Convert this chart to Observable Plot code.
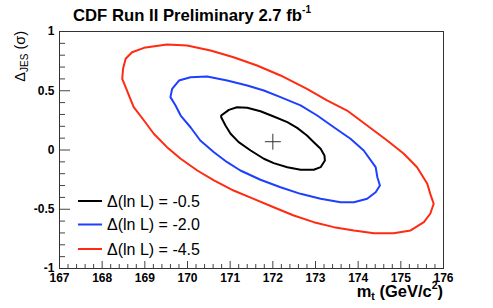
<!DOCTYPE html>
<html><head><meta charset="utf-8">
<script src="https://cdn.jsdelivr.net/npm/d3@7"></script>
<script src="https://cdn.jsdelivr.net/npm/@observablehq/plot@0.6"></script>
<style>body{margin:0;background:#fff}#chart{position:relative;width:493px;height:308px}</style>
</head><body><div id="chart"></div>
<script>
// ---- data (m_t in GeV/c^2, Delta_JES in sigma) ----
const contourHalf = [[170.79,0.291],[170.97,0.339],[171.16,0.361],[171.40,0.356],[171.71,0.327],[172.02,0.283],[172.34,0.235],[172.57,0.187],[172.80,0.122],[172.96,0.066],[173.12,0.010],[173.21,-0.046],[173.22,-0.089],[173.12,-0.145],[172.96,-0.167],[172.65,-0.167],[172.34,-0.145],[172.02,-0.111],[171.79,-0.074],[171.48,-0.004],[171.20,0.066],[171.01,0.137],[170.89,0.207],[170.79,0.277]];
const contourTwo = [[169.60,0.446],[169.64,0.516],[169.80,0.586],[170.07,0.614],[170.46,0.620],[170.93,0.586],[171.40,0.544],[171.79,0.502],[172.18,0.446],[172.65,0.376],[173.04,0.291],[173.43,0.192],[173.82,0.095],[174.13,-0.004],[174.41,-0.145],[174.45,-0.230],[174.51,-0.300],[174.41,-0.356],[174.21,-0.412],[173.90,-0.441],[173.59,-0.441],[173.12,-0.412],[172.65,-0.370],[172.18,-0.314],[171.71,-0.251],[171.24,-0.173],[170.93,-0.103],[170.62,-0.019],[170.30,0.080],[170.07,0.192],[169.84,0.291],[169.72,0.376]];
const contourFourHalf = [[168.47,0.601],[168.49,0.685],[168.55,0.770],[168.70,0.825],[168.98,0.862],[169.52,0.890],[169.99,0.882],[170.54,0.840],[171.08,0.783],[171.63,0.713],[172.18,0.629],[172.80,0.516],[173.27,0.418],[173.74,0.333],[174.21,0.207],[174.68,0.080],[175.07,-0.032],[175.38,-0.145],[175.62,-0.285],[175.69,-0.370],[175.77,-0.454],[175.69,-0.538],[175.54,-0.609],[175.23,-0.679],[174.83,-0.702],[174.37,-0.702],[173.90,-0.679],[173.43,-0.651],[172.96,-0.609],[172.49,-0.553],[172.02,-0.483],[171.55,-0.412],[171.08,-0.342],[170.62,-0.257],[170.23,-0.173],[169.84,-0.074],[169.52,0.024],[169.21,0.137],[168.98,0.249],[168.74,0.361],[168.66,0.432],[168.55,0.530]];
const bestFit = [[172.0, 0.07]];
const legendLabels = ["\u0394(ln L) = -0.5", "\u0394(ln L) = -2.0", "\u0394(ln L) = -4.5"];
const legendColors = ["#000000", "#1f3fff", "#ff2a12"];
const xMajor = [167,168,169,170,171,172,173,174,175,176];
const xMinor = [167.2,167.4,167.6,167.8,168.2,168.4,168.6,168.8,169.2,169.4,169.6,169.8,170.2,170.4,170.6,170.8,171.2,171.4,171.6,171.8,172.2,172.4,172.6,172.8,173.2,173.4,173.6,173.8,174.2,174.4,174.6,174.8,175.2,175.4,175.6,175.8];
const yMajor = [-1,-0.5,0,0.5,1];
const yMinor = [-0.9,-0.8,-0.7,-0.6,-0.4,-0.3,-0.2,-0.1,0.1,0.2,0.3,0.4,0.6,0.7,0.8,0.9];

const W = 493, H = 308, mL = 59, mR = 50, mT = 31, mB = 40;
const pw = W - mL - mR, ph = H - mT - mB;
const FONT = "Liberation Sans, Arial, Helvetica, sans-serif";
const contours = [contourHalf, contourTwo, contourFourHalf];

const chart = Plot.plot({
  width: W, height: H, marginLeft: mL, marginRight: mR, marginTop: mT, marginBottom: mB,
  style: {fontFamily: FONT, background: "#fff", color: "#000"},
  x: {domain: [167, 176]},
  y: {domain: [-1, 1]},
  marks: [
    Plot.tickX(xMajor, {x: d => d, stroke: "#444", insetTop: ph - 7}),
    Plot.tickX(xMinor, {x: d => d, stroke: "#444", insetTop: ph - 4}),
    Plot.tickY(yMajor, {y: d => d, stroke: "#444", insetRight: pw - 11}),
    Plot.tickY(yMinor, {y: d => d, stroke: "#444", insetRight: pw - 6}),
    Plot.axisX(xMajor, {tickSize: 0, tickPadding: 5, tickFormat: d => String(d), label: null, fontSize: 12, fontWeight: "bold"}),
    Plot.axisY(yMajor, {tickSize: 0, tickPadding: 5, tickFormat: d => String(d), label: null, fontSize: 12, fontWeight: "bold"}),
    ...contours.map((c, i) => Plot.line(c, {x: d => d[0], y: d => d[1], curve: "linear-closed", stroke: legendColors[i], strokeWidth: 2})),
    Plot.dot(bestFit, {x: d => d[0], y: d => d[1], symbol: "plus", r: 5.2, stroke: "#333", strokeWidth: 1}),
    Plot.frame({stroke: "#333", strokeWidth: 1})
  ]
});
document.getElementById("chart").appendChild(chart);

const svg = d3.select(chart);
// title
const t = svg.append("text").attr("x", 73).attr("y", 21).attr("text-anchor", "start").attr("font-family", FONT).attr("font-size", 16.7).attr("font-weight", "bold").attr("fill", "#000");
t.append("tspan").text("CDF Run II Preliminary 2.7 fb");
t.append("tspan").attr("font-size", 10).attr("dy", -8).text("-1");
// y label
const yl = svg.append("text").attr("transform", "translate(25,31) rotate(-90)").attr("text-anchor", "end").attr("font-family", FONT).attr("font-size", 14.5).attr("fill", "#000");
yl.append("tspan").text("\u0394");
yl.append("tspan").attr("font-size", 10).attr("dy", 3).text("JES");
yl.append("tspan").attr("dy", -3).text(" (\u03c3)");
// x label
const xl = svg.append("text").attr("x", 443).attr("y", 297).attr("text-anchor", "end").attr("font-family", FONT).attr("font-size", 16.5).attr("font-weight", "bold").attr("fill", "#000");
xl.append("tspan").text("m");
xl.append("tspan").attr("font-size", 10.5).attr("dy", 3).text("t");
xl.append("tspan").attr("dy", -3).text(" (GeV/c");
xl.append("tspan").attr("font-size", 10.5).attr("dy", -8).text("2");
xl.append("tspan").attr("dy", 8).text(")");
// legend
const legY = [201, 224.5, 249];
legendLabels.forEach((lab, i) => {
  svg.append("line").attr("x1", 78).attr("x2", 102).attr("y1", legY[i]).attr("y2", legY[i]).attr("stroke", legendColors[i]).attr("stroke-width", 2);
  svg.append("text").attr("x", 107).attr("y", legY[i] + 5.5).attr("text-anchor", "start").attr("font-family", FONT).attr("font-size", 16).attr("fill", "#000").text(lab);
});
</script></body></html>
